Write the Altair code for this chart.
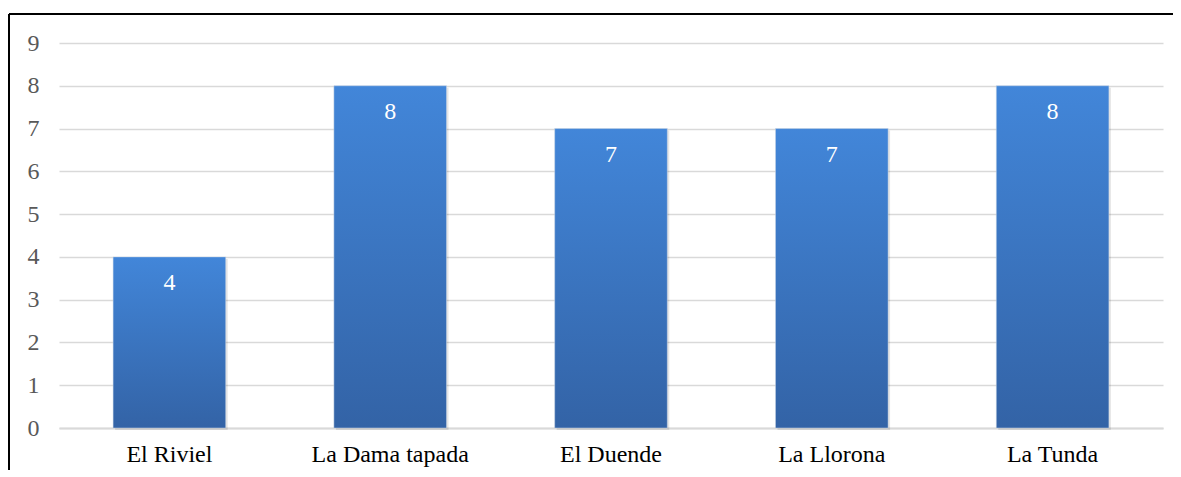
import altair as alt
import pandas as pd

categories = ["El Riviel", "La Dama tapada", "El Duende", "La Llorona", "La Tunda"]
values = [4, 8, 7, 7, 8]
y_ticks = [0, 1, 2, 3, 4, 5, 6, 7, 8, 9]

df = pd.DataFrame({"categoria": categories, "valor": values})

FONT = "Liberation Serif"

x_enc = alt.X("categoria:N", sort=categories, title=None,
              scale=alt.Scale(paddingInner=0.49, paddingOuter=0.245))
y_enc = alt.Y("valor:Q", title=None,
              scale=alt.Scale(domain=[0, 9], nice=False),
              axis=alt.Axis(values=y_ticks))

base = alt.Chart(df)

bars = base.mark_bar(
    color=alt.Gradient(
        gradient="linear",
        stops=[alt.GradientStop(color="#4286d9", offset=0),
               alt.GradientStop(color="#3363a6", offset=1)],
        x1=0, x2=0, y1=0, y2=1),
    stroke="#c8d4e4", strokeWidth=0.5
).encode(x=x_enc, y=y_enc)

shadow = base.mark_bar(color="#000000", opacity=0.10, xOffset=2, yOffset=2).encode(
    x=x_enc, y=y_enc)

labels = base.mark_text(baseline="top", dy=14, font=FONT, fontSize=24,
                        color="#ffffff").encode(
    x=x_enc, y=y_enc, text=alt.Text("valor:Q"))

top_border = alt.Chart(df).mark_rule(color="#000000", strokeWidth=2).encode(
    x=alt.value(-50), x2=alt.value(1130), y=alt.value(-29))
left_border = alt.Chart(df).mark_rule(color="#000000", strokeWidth=2).encode(
    x=alt.value(-50), y=alt.value(-29), y2=alt.value(440))

chart = alt.layer(shadow, bars, labels, top_border, left_border).properties(
    width=1104, height=385,
    autosize=alt.AutoSizeParams(type="none"),
    padding={"left": 51, "top": 35, "right": 10, "bottom": 42},
).configure_view(stroke=None).configure_axisX(
    labelAngle=0, labelFont=FONT, labelFontSize=24, labelColor="#000000",
    labelPadding=14, ticks=False, domain=True, domainColor="#d9d9d9",
    domainWidth=2, grid=False
).configure_axisY(
    labelFont=FONT, labelFontSize=24, labelColor="#595959", labelPadding=20,
    ticks=False, domain=False, grid=True, gridColor="#d9d9d9", gridWidth=1.5
)

chart.save("out.html", embed_options={"renderer": "svg", "actions": False})
